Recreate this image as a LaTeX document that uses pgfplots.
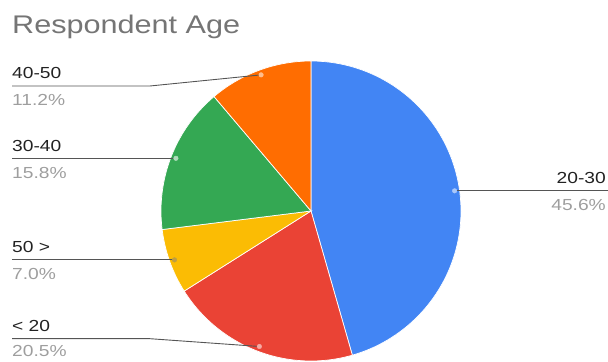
\documentclass[border=0pt]{standalone}
\usepackage{pgfplots}
\pgfplotsset{compat=1.18}
\usepackage{fontspec}
\setmainfont{Liberation Sans}[FakeStretch=1.2]
\definecolor{cblue}{HTML}{4285F4}
\definecolor{cred}{HTML}{EA4335}
\definecolor{cyellow}{HTML}{FBBC04}
\definecolor{cgreen}{HTML}{34A853}
\definecolor{corange}{HTML}{FF6D01}
\definecolor{ctitle}{HTML}{757575}
\definecolor{clab}{HTML}{222222}
\definecolor{cpct}{HTML}{9E9E9E}
\definecolor{cline}{HTML}{555555}
\tikzset{
  lab/.style={anchor=base west, inner sep=0pt, text=clab, font=\fontsize{16bp}{19bp}\selectfont},
  pct/.style={anchor=base west, inner sep=0pt, text=cpct, font=\fontsize{16bp}{19bp}\selectfont},
}
% shares (percent), clockwise from 12 o'clock
\def\pA{45.6}% 20-30
\def\pB{20.5}% < 20
\def\pC{7.0}%  50 >
\def\pD{15.8}% 30-40
\def\pE{11.2}% 40-50
\pgfmathsetmacro\tot{\pA+\pB+\pC+\pD+\pE}
\pgfmathsetmacro\aA{90}
\pgfmathsetmacro\aB{\aA-\pA/\tot*360}
\pgfmathsetmacro\aC{\aB-\pB/\tot*360}
\pgfmathsetmacro\aD{\aC-\pC/\tot*360}
\pgfmathsetmacro\aE{\aD-\pD/\tot*360}
\pgfmathsetmacro\aF{\aE-\pE/\tot*360}
\def\cx{311}\def\cy{151}\def\R{150}\def\rd{145}
\pgfmathsetmacro\mA{(\aA+\aB)/2}
\pgfmathsetmacro\mB{(\aB+\aC)/2}
\pgfmathsetmacro\mC{(\aC+\aD)/2}
\pgfmathsetmacro\mD{(\aD+\aE)/2}
\pgfmathsetmacro\mE{(\aE+\aF)/2}
\pgfmathsetmacro\xA{\cx+\rd*cos(\mA)}\pgfmathsetmacro\yA{\cy+\rd*sin(\mA)}
\pgfmathsetmacro\xB{\cx+\rd*cos(\mB)}\pgfmathsetmacro\yB{\cy+\rd*sin(\mB)}
\pgfmathsetmacro\xC{\cx+\rd*cos(\mC)}\pgfmathsetmacro\yC{\cy+\rd*sin(\mC)}
\pgfmathsetmacro\xD{\cx+\rd*cos(\mD)}\pgfmathsetmacro\yD{\cy+\rd*sin(\mD)}
\pgfmathsetmacro\xE{\cx+\rd*cos(\mE)}\pgfmathsetmacro\yE{\cy+\rd*sin(\mE)}
\pgfmathsetmacro\yDl{\yD+7.3}\pgfmathsetmacro\yDp{\yD-20}
\pgfmathsetmacro\yCl{\yC+7.7}\pgfmathsetmacro\yCp{\yC-20}
\pgfmathsetmacro\yAl{\yA+7}\pgfmathsetmacro\yAp{\yA-20}
\begin{document}
\begin{tikzpicture}
\begin{axis}[
  scale only axis, width=608bp, height=362bp,
  xmin=0, xmax=608, ymin=0, ymax=362,
  hide axis, clip=false,
]
\addplot[fill=cblue, draw=white, line width=0.7bp, domain=\aB:\aA, samples=90, variable=\t]
  ({\cx+\R*cos(\t)},{\cy+\R*sin(\t)}) -- (\cx,\cy) -- cycle;
\addplot[fill=cred, draw=white, line width=0.7bp, domain=\aC:\aB, samples=60, variable=\t]
  ({\cx+\R*cos(\t)},{\cy+\R*sin(\t)}) -- (\cx,\cy) -- cycle;
\addplot[fill=cyellow, draw=white, line width=0.7bp, domain=\aD:\aC, samples=30, variable=\t]
  ({\cx+\R*cos(\t)},{\cy+\R*sin(\t)}) -- (\cx,\cy) -- cycle;
\addplot[fill=cgreen, draw=white, line width=0.7bp, domain=\aE:\aD, samples=50, variable=\t]
  ({\cx+\R*cos(\t)},{\cy+\R*sin(\t)}) -- (\cx,\cy) -- cycle;
\addplot[fill=corange, draw=white, line width=0.7bp, domain=\aF:\aE, samples=40, variable=\t]
  ({\cx+\R*cos(\t)},{\cy+\R*sin(\t)}) -- (\cx,\cy) -- cycle;
% leader lines
\draw[cline, line width=0.9bp] (\xA,\yA) -- (608,\yA);
\draw[cline, line width=0.9bp] (\xB,\yB) -- (150,23.3) -- (12,23.3);
\draw[cline, line width=0.9bp] (\xC,\yC) -- (12,\yC);
\draw[cline, line width=0.9bp] (\xD,\yD) -- (12,\yD);
\draw[cline, line width=0.9bp] (\xE,\yE) -- (150,276) -- (12,276);
% anchor dots
\addplot[only marks, mark=*, mark size=2.3bp, color=cblue!45!white] coordinates {(\xA,\yA)};
\addplot[only marks, mark=*, mark size=2.3bp, color=cred!45!white] coordinates {(\xB,\yB)};
\addplot[only marks, mark=*, mark size=2.3bp, color=cyellow!50!gray] coordinates {(\xC,\yC)};
\addplot[only marks, mark=*, mark size=2.3bp, color=cgreen!40!white] coordinates {(\xD,\yD)};
\addplot[only marks, mark=*, mark size=2.3bp, color=corange!45!white] coordinates {(\xE,\yE)};
% labels
\node[lab] at (12,283.7) {40-50};
\node[pct] at (12,256.3) {11.2\%};
\node[lab] at (12,\yDl) {30-40};
\node[pct] at (12,\yDp) {15.8\%};
\node[lab] at (12,\yCl) {50 >};
\node[pct] at (12,\yCp) {7.0\%};
\node[lab] at (12,30.3) {< 20};
\node[pct] at (12,5.3) {20.5\%};
\node[lab, anchor=base east] at (606,\yAl) {20-30};
\node[pct, anchor=base east] at (606,\yAp) {45.6\%};
% title
\node[anchor=base west, inner sep=0pt, text=ctitle, font=\fontsize{25.5bp}{30bp}\selectfont] at (12,328.7) {Respondent Age};
\end{axis}
\pgfresetboundingbox
\path (0,0) rectangle (608bp,362bp);
\end{tikzpicture}
\end{document}
